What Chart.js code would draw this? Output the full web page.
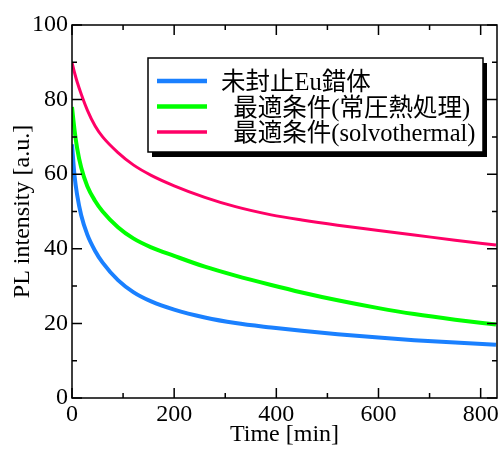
<!DOCTYPE html>
<html>
<head>
<meta charset="utf-8">
<script src="https://cdn.jsdelivr.net/npm/chart.js@4"></script>
<style>
  html, body { margin: 0; padding: 0; background: #fff; }
  #wrap { width: 502px; height: 450px; }
</style>
</head>
<body>
<div id="wrap"><canvas id="pl-chart" width="502" height="450"></canvas></div>
<script>
// time [min]
const times = [0, 5, 10, 18, 30, 45, 60, 90, 120, 155, 200, 260, 320, 390, 450, 520, 600, 670, 750, 830];
// PL intensity [a.u.]
const unsealed = [68, 59.5, 54.5, 49, 43.8, 39.5, 36.3, 31.6, 28.4, 25.9, 23.7, 21.6, 20.1, 18.9, 18.0, 17.1, 16.2, 15.5, 14.9, 14.3];
const optimalAmbient = [78, 71.8, 67, 61.8, 56.8, 52.9, 50.0, 45.8, 42.8, 40.4, 38.1, 35.2, 32.8, 30.3, 28.3, 26.2, 24.1, 22.5, 21.0, 19.7];
const optimalSolvo = [90, 87.2, 84.8, 81.5, 77.2, 73.0, 70.0, 65.8, 62.5, 59.7, 56.9, 53.8, 51.3, 49.1, 47.7, 46.3, 44.9, 43.7, 42.3, 41.0];
const seriesLabels = ['未封止Eu錯体', '  最適条件(常圧熱処理)', '  最適条件(solvothermal)'];

const serif = '"Liberation Serif", "Noto Sans CJK JP", serif';

function pts(ys) {
    return times.map((t, i) => ({ x: t, y: ys[i] }));
}

// inward ticks on all four sides + frame
const frameTicks = {
    id: 'frameTicks',
    afterDatasetsDraw(chart) {
        const { ctx, chartArea: a, scales } = chart;
        ctx.save();
        ctx.strokeStyle = '#000';
        ctx.lineWidth = 1.5;
        ctx.beginPath();
        scales.x.ticks.forEach(t => {
            const px = scales.x.getPixelForValue(t.value);
            const len = t.value % 200 === 0 ? 10 : 5;
            ctx.moveTo(px, a.bottom); ctx.lineTo(px, a.bottom - len);
            ctx.moveTo(px, a.top); ctx.lineTo(px, a.top + len);
        });
        scales.y.ticks.forEach(t => {
            const py = scales.y.getPixelForValue(t.value);
            const len = t.value % 20 === 0 ? 10 : 5;
            ctx.moveTo(a.left, py); ctx.lineTo(a.left + len, py);
            ctx.moveTo(a.right, py); ctx.lineTo(a.right - len, py);
        });
        ctx.stroke();
        ctx.strokeRect(a.left, a.top, a.right - a.left, a.bottom - a.top);
        ctx.restore();
    }
};

// boxed legend with drop shadow
const boxLegend = {
    id: 'boxLegend',
    afterDraw(chart) {
        const ctx = chart.ctx;
        const x0 = 148, y0 = 58, w = 335, h = 94;
        ctx.save();
        ctx.fillStyle = '#000';
        ctx.fillRect(x0 + 4, y0 + 5, w, h);
        ctx.fillStyle = '#fff';
        ctx.fillRect(x0, y0, w, h);
        ctx.strokeStyle = '#000';
        ctx.lineWidth = 1.5;
        ctx.strokeRect(x0, y0, w, h);
        ctx.font = '24.5px ' + serif;
        ctx.textBaseline = 'alphabetic';
        chart.data.datasets.forEach((ds, i) => {
            const y = 81 + i * 25.5;
            ctx.strokeStyle = ds.borderColor;
            ctx.lineWidth = ds.borderWidth + 0.5;
            ctx.beginPath();
            ctx.moveTo(157, y);
            ctx.lineTo(207, y);
            ctx.stroke();
            ctx.fillStyle = '#000';
            ctx.fillText(ds.label, 221, y + 9);
        });
        ctx.restore();
    }
};

new Chart(document.getElementById('pl-chart'), {
    type: 'scatter',
    data: {
        datasets: [
            { label: seriesLabels[0], data: pts(unsealed), borderColor: '#1a80ff', borderWidth: 4 },
            { label: seriesLabels[1], data: pts(optimalAmbient), borderColor: '#00ff00', borderWidth: 4 },
            { label: seriesLabels[2], data: pts(optimalSolvo), borderColor: '#ff0066', borderWidth: 3 }
        ].map(d => Object.assign(d, {
            showLine: true,
            pointRadius: 0,
            cubicInterpolationMode: 'monotone',
            fill: false
        }))
    },
    options: {
        responsive: false,
        animation: false,
        layout: { padding: { top: 25, right: 5, left: 0, bottom: 0 } },
        plugins: { legend: { display: false }, tooltip: { enabled: false } },
        scales: {
            x: {
                type: 'linear',
                min: 0,
                max: 832,
                grid: { display: false, drawTicks: false },
                border: { display: false },
                ticks: {
                    stepSize: 100,
                    includeBounds: false,
                    autoSkip: false,
                    maxRotation: 0,
                    padding: 2,
                    color: '#000',
                    font: { family: serif, size: 24 },
                    callback: v => (v % 200 === 0 ? String(v) : '')
                },
                title: {
                    display: true,
                    text: 'Time [min]',
                    color: '#000',
                    font: { family: serif, size: 24 },
                    padding: { top: 0, bottom: 1 }
                },
                afterFit(scale) { scale.height = 52; }
            },
            y: {
                min: 0,
                max: 100,
                grid: { display: false, drawTicks: false },
                border: { display: false },
                ticks: {
                    stepSize: 10,
                    autoSkip: false,
                    padding: 4,
                    color: '#000',
                    font: { family: serif, size: 24 },
                    callback: v => (v % 20 === 0 ? String(v) : '')
                },
                title: {
                    display: true,
                    text: 'PL intensity [a.u.]',
                    color: '#000',
                    font: { family: serif, size: 24 },
                    padding: { top: 8, bottom: 0 }
                },
                afterFit(scale) { scale.width = 72; }
            }
        }
    },
    plugins: [frameTicks, boxLegend]
});
</script>
</body>
</html>
